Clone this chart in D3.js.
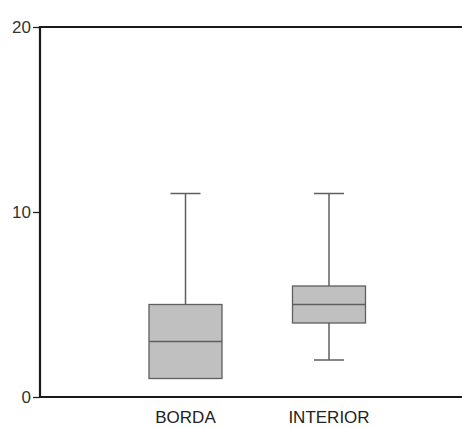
<!DOCTYPE html>
<html>
<head>
<meta charset="utf-8">
<script src="https://cdn.jsdelivr.net/npm/d3@7"></script>
<style>
  body { margin: 0; background: #fff; }
  text { font-family: "Liberation Sans", Arial, sans-serif; }
</style>
</head>
<body>
<div id="chart"></div>
<script>
const width = 462, height = 428;

// box plot values
const categories = ["BORDA", "INTERIOR"];
const mins    = [1, 2];
const q1s     = [1, 4];
const medians = [3, 5];
const q3s     = [5, 6];
const maxs    = [11, 11];
const yTicks  = [0, 10, 20];

const data = categories.map((c, i) => ({
    name: c, min: mins[i], q1: q1s[i], median: medians[i], q3: q3s[i], max: maxs[i]
}));

const svg = d3.select("#chart").append("svg")
    .attr("width", width)
    .attr("height", height);

const x = d3.scalePoint().domain(categories).range([42, 472.5]).padding(1);
const y = d3.scaleLinear().domain([0, 20]).range([397, 27]);

const boxWidth = 73, capWidth = 30;
const stroke = "#5f5f5f";

// y axis
const yAxis = svg.append("g")
    .attr("transform", "translate(40,0)")
    .call(d3.axisLeft(y).tickValues(yTicks).tickSize(7).tickPadding(2).tickFormat(d3.format("d")));
yAxis.select(".domain").remove();
yAxis.selectAll(".tick line").attr("stroke", "#222").attr("stroke-width", 1.3);
yAxis.selectAll(".tick text").attr("fill", "#333").style("font-size", "17px");

// frame lines (left, top, bottom)
svg.append("line").attr("x1", 40).attr("x2", 40).attr("y1", y(20) - 1).attr("y2", y(0) + 1)
    .attr("stroke", "#1a1a1a").attr("stroke-width", 2.2);
svg.append("line").attr("x1", 39).attr("x2", width).attr("y1", y(20)).attr("y2", y(20))
    .attr("stroke", "#1a1a1a").attr("stroke-width", 2);
svg.append("line").attr("x1", 39).attr("x2", width).attr("y1", y(0)).attr("y2", y(0))
    .attr("stroke", "#1a1a1a").attr("stroke-width", 2.2);

// boxes
const g = svg.append("g").selectAll("g")
    .data(data)
    .enter().append("g")
    .attr("transform", d => `translate(${x(d.name)},0)`);

// whiskers
g.append("line")
    .attr("y1", d => y(d.max)).attr("y2", d => y(d.q3))
    .attr("stroke", stroke).attr("stroke-width", 1.5);
g.append("line")
    .attr("y1", d => y(d.q1)).attr("y2", d => y(d.min))
    .attr("stroke", stroke).attr("stroke-width", 1.5);
g.append("line")
    .attr("x1", -capWidth / 2).attr("x2", capWidth / 2)
    .attr("y1", d => y(d.max)).attr("y2", d => y(d.max))
    .attr("stroke", stroke).attr("stroke-width", 1.5);
g.filter(d => d.min < d.q1).append("line")
    .attr("x1", -capWidth / 2).attr("x2", capWidth / 2)
    .attr("y1", d => y(d.min)).attr("y2", d => y(d.min))
    .attr("stroke", stroke).attr("stroke-width", 1.5);

g.append("rect")
    .attr("x", -boxWidth / 2)
    .attr("width", boxWidth)
    .attr("y", d => y(d.q3))
    .attr("height", d => y(d.q1) - y(d.q3))
    .attr("fill", "#c0c0c0")
    .attr("stroke", stroke)
    .attr("stroke-width", 1.3);

g.append("line")
    .attr("x1", -boxWidth / 2).attr("x2", boxWidth / 2)
    .attr("y1", d => y(d.median)).attr("y2", d => y(d.median))
    .attr("stroke", stroke).attr("stroke-width", 1.5);

// category labels
svg.append("g").selectAll("text")
    .data(categories)
    .enter().append("text")
    .attr("x", d => x(d))
    .attr("y", 423)
    .attr("text-anchor", "middle")
    .attr("fill", "#222")
    .style("font-size", "17px")
    .text(d => d);
</script>
</body>
</html>
